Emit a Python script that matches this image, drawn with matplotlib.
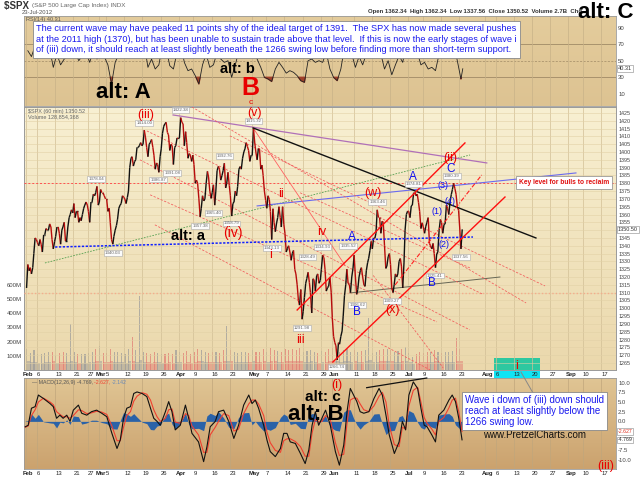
import numpy as np
import matplotlib
matplotlib.use("Agg")
import matplotlib.pyplot as plt
from matplotlib.collections import LineCollection
from matplotlib.colors import LinearSegmentedColormap
from matplotlib.lines import Line2D
from matplotlib.patches import Rectangle
from matplotlib.transforms import ScaledTranslation

plt.rcParams['font.family'] = ['Liberation Sans', 'DejaVu Sans']

W, H = 640, 479

# $SPX 60 min, Feb 1 - Jul 23 2012: three readings per trading day
feb = [[1313, 1328, 1324], [1326, 1322, 1326], [1335, 1345, 1344], [1342, 1340, 1344], [1341, 1336, 1347],
       [1347, 1351, 1350], [1350, 1354, 1352], [1344, 1338, 1342.6], [1346, 1352, 1352], [1348, 1341, 1350],
       [1352, 1355, 1343], [1343, 1352, 1358], [1360, 1363, 1361], [1367, 1358, 1362], [1362, 1355, 1358],
       [1356, 1360, 1364], [1366, 1368, 1366], [1362, 1355, 1368], [1368, 1373, 1372], [1374, 1378, 1366]]
mar = [[1368, 1376, 1374], [1374, 1372, 1370], [1370, 1362, 1364], [1355, 1344, 1341], [1346, 1350, 1353],
       [1357, 1364, 1366], [1367, 1372, 1371], [1370, 1367, 1371], [1375, 1390, 1396], [1397, 1391, 1394],
       [1395, 1403, 1403], [1404, 1406, 1404], [1405, 1414, 1409], [1403, 1397, 1405], [1406, 1408, 1403],
       [1398, 1389, 1393], [1392, 1387, 1397], [1402, 1412, 1416.5], [1418, 1419, 1412.5], [1411, 1401, 1405],
       [1404, 1392, 1403], [1404, 1409, 1408.5]]
apr = [[1409, 1422, 1419], [1418, 1404, 1413], [1406, 1396, 1399], [1398, 1394, 1398], [1392, 1380, 1382],
       [1380, 1370, 1358.6], [1364, 1372, 1368.7], [1370, 1380, 1387.6], [1384, 1375, 1370.3], [1374, 1379, 1366],
       [1375, 1388, 1390.8], [1389, 1382, 1385], [1388, 1392.8, 1377], [1380, 1387, 1378.5], [1372, 1359, 1367],
       [1368, 1375, 1372], [1378, 1389, 1390.7], [1389, 1396, 1400], [1402, 1406, 1403.4], [1401, 1394, 1398]]
may = [[1398, 1415, 1405.8], [1400, 1395, 1402.3], [1402, 1389, 1391.6], [1385, 1375, 1369], [1364, 1372, 1369.6],
       [1362, 1344, 1363.7], [1355, 1349, 1354.6], [1358, 1365, 1358], [1352, 1365, 1353.4], [1348, 1336, 1338.4],
       [1340, 1336, 1330.7], [1335, 1337, 1324.8], [1322, 1315, 1304.9], [1302, 1312, 1293], [1298, 1307, 1316],
       [1319, 1323, 1316.6], [1310, 1297, 1318.9], [1318, 1311, 1320.7], [1322, 1316, 1317.8], [1325, 1334, 1332.4],
       [1325, 1311, 1313.3], [1314, 1320, 1310.3]]
jun = [[1294, 1282, 1278], [1276, 1267, 1278], [1277, 1282, 1285.5], [1295, 1308, 1315], [1325, 1316, 1315],
       [1310, 1320, 1325.7], [1334, 1320, 1308.9], [1312, 1320, 1324.2], [1326, 1320, 1314.9], [1314, 1324, 1329.1],
       [1332, 1337, 1342.8], [1338, 1345, 1344.8], [1348, 1363, 1358], [1358, 1348, 1355.7], [1355, 1340, 1325.5],
       [1327, 1333, 1335], [1328, 1313, 1310], [1315, 1322, 1320], [1322, 1330, 1331.85], [1327, 1313, 1329],
       [1350, 1360, 1362.2]]
jul = [[1362, 1358, 1365.5], [1366, 1374, 1374], [1372, 1373, 1367.6], [1362, 1351, 1354.7], [1352, 1348, 1352.5],
       [1355, 1358, 1341.5], [1340, 1338, 1341.5], [1335, 1326, 1334.8], [1336, 1350, 1356.8], [1355, 1348, 1353.6],
       [1354, 1366, 1363.7], [1360, 1368, 1372.8], [1376, 1380, 1376.5], [1373, 1365, 1362.7], [1352, 1338, 1350.5]]

# volume (millions): typical hour and biggest hour of each day
vol_base = [60, 55, 58, 50, 52, 55, 56, 60, 50, 55, 58, 55, 62, 56, 50, 52, 50, 54, 58, 62,
            60, 55, 56, 65, 58, 56, 55, 52, 62, 60, 58, 70, 56, 54, 52, 56, 55, 52, 50, 54, 50, 58,
            56, 52, 55, 50, 58, 65, 60, 56, 54, 55, 58, 54, 60, 62, 60, 56, 54, 56, 58, 54,
            60, 56, 58, 62, 58, 65, 60, 58, 56, 62, 60, 62, 60, 66, 58, 58, 60, 56, 52, 58, 56, 62,
            68, 64, 56, 60, 62, 56, 60, 56, 58, 60, 70, 54, 56, 60, 62, 64, 60, 56, 58, 62, 66,
            54, 45, 50, 56, 54, 56, 55, 60, 56, 54, 55, 56, 58, 62, 62]
vol_peak = [150, 120, 140, 110, 115, 120, 125, 130, 105, 120, 125, 120, 324, 125, 110, 115, 110, 120, 130, 150,
            170, 120, 120, 150, 130, 125, 120, 115, 150, 232, 140, 520, 130, 120, 115, 125, 120, 115, 110, 120, 110, 140,
            130, 120, 135, 115, 130, 150, 140, 125, 120, 125, 130, 120, 140, 310, 140, 125, 120, 125, 130, 120,
            140, 125, 130, 150, 130, 155, 140, 135, 130, 150, 140, 145, 140, 155, 130, 135, 140, 130, 120, 135, 130, 150,
            160, 150, 130, 140, 150, 130, 140, 130, 135, 140, 366, 120, 130, 140, 145, 150, 140, 130, 135, 150, 160,
            120, 90, 110, 125, 120, 130, 125, 140, 130, 120, 125, 130, 135, 225, 150]

# RSI(14), one reading per day, then last print
rsi_vals = [62, 55, 68, 60, 55, 62, 64, 42, 58, 45, 52, 55, 62, 60, 50, 56, 60, 48, 62, 52,
            58, 55, 45, 22, 48, 58, 60, 55, 70, 62, 68, 66, 70, 42, 52, 40, 45, 68, 65, 44, 40, 60,
            70, 48, 38, 40, 32, 22, 45, 58, 42, 45, 60, 52, 48, 50, 30, 45, 62, 66, 64, 55,
            68, 52, 42, 30, 28, 25, 40, 48, 42, 35, 38, 36, 32, 26, 24, 50, 52, 48, 50, 48, 60, 40,
            30, 26, 40, 66, 60, 58, 42, 55, 45, 58, 64, 66, 70, 58, 40, 50, 33, 45, 56, 48, 70,
            68, 72, 60, 45, 48, 40, 42, 38, 58, 56, 64, 68, 70, 50, 28]
rsi_last = 40.31

# MACD(12,26,9)
macd_days = [-0.2, 0.6, 1.5, 2.5, 3.4, 4.8, 6.6, 7.5, 8.4, 9.3, 10.2, 11.2, 12.1, 13, 14.4, 15.3, 16.7, 18,
             19.4, 20.8, 22.2, 23.6, 25, 25.9, 26.8, 27.7, 28.7, 29.6, 30.5, 31.9, 33.2, 34.2, 35.1, 36,
             36.9, 38.3, 39.2, 40.1, 41, 42.4, 43.8, 44.7, 45.6, 47.4, 48.8, 49.7, 50.6, 52, 52.9, 54.3,
             55.7, 57.1, 58.4, 59.8, 61.2, 62.1, 63, 63.9, 65.3, 66.2, 67.1, 68.5, 69.9, 70.8, 71.7, 72.6,
             74, 75.4, 76.7, 77.7, 78.6, 79.5, 80.4, 81.3, 82.3, 83.6, 85, 86.1, 87.3, 88.2, 89.1, 90,
             90.9, 91.8, 92.8, 94.2, 95.6, 97, 97.9, 98.9, 99.8, 101.2, 102.5, 103.4, 104.3, 105.2, 106.4,
             107.6, 108.5, 109.4, 110.2, 111.5, 112.5, 113.4, 114.8, 116.2, 117.1, 118, 118.9, 119.8]
macd_vals = [-1.4, -1.0, 3.4, 3.8, 6.8, 5.9, 4.6, 3.8, 0.8, 1.6, 0.8, 1.6, 0.0, 2.9, 4.2, 2.1, 1.6, 2.5,
             2.9, 2.1, 1.2, -3.1, -7.0, -4.8, 0.8, 3.4, 3.8, 7.2, 7.6, 7.2, 6.4, 3.4, 0.8, 0.0, -1.0, 2.5,
             5.1, 2.5, -2.2, -1.0, 4.2, 0.8, -3.1, -5.3, -10.4, -6.6, -1.4, 0.0, 2.5, 2.9, 0.0, -4.4, -1.0,
             4.2, 6.8, 4.6, 5.5, 3.4, -1.0, -4.8, -7.8, -9.1, -7.0, -3.1, -3.1, -5.3, -5.7, -8.3, -10.9,
             -7.4, -1.0, 2.5, -1.0, 0.8, 2.9, -1.0, -7.8, -11.3, -6.1, 2.5, 8.5, 6.8, 5.1, 2.5, 2.1, 2.5,
             5.9, 8.5, 6.8, 1.6, -3.5, -8.3, -5.3, 0.0, -2.2, 6.8, 10.2, 8.5, 3.4, -1.0, -1.4, -3.5, -5.3,
             1.6, 2.9, 5.5, 6.8, 5.1, 0.8, -4.769]
signal_vals = [-1.5, -1.2, 1.5, 3.0, 5.0, 6.0, 5.0, 4.3, 2.5, 1.8, 1.2, 1.2, 0.8, 1.5, 3.0, 2.8, 2.0, 2.2,
               2.6, 2.4, 1.8, -1.2, -5.0, -5.0, -1.5, 1.5, 2.5, 5.2, 6.5, 7.4, 7.0, 5.5, 3.0, 1.2, 0.0, 0.8,
               3.0, 3.2, -0.2, -0.5, 2.0, 1.5, -1.2, -3.5, -8.0, -8.0, -3.5, -1.5, 0.0, 2.0, 1.5, -2.5, -2.0,
               2.0, 4.5, 5.5, 5.5, 4.5, 1.5, -2.8, -5.5, -7.5, -8.0, -5.0, -4.5, -4.5, -5.2, -6.5, -9.0,
               -9.0, -3.0, 0.5, -0.2, 0.0, 1.5, 0.5, -5.5, -8.8, -8.5, -0.5, 5.5, 6.0, 6.0, 4.5, 3.0, 2.5,
               4.0, 6.5, 7.5, 5.0, -1.0, -6.0, -6.5, -1.5, -2.0, 4.0, 8.0, 8.8, 5.0, 1.0, -0.5, -2.0, -3.5,
               0.0, 1.0, 3.5, 5.5, 6.0, 2.5, -2.627]

# swing labels on the price pane: (trading day, price, above the bar?)
swing_labels = [(19.3, 1378.04, True), (23.9, 1340.03, False), (32.5, 1414.00, True), (36.3, 1386.87, False),
                (40.2, 1391.08, False), (42.5, 1422.38, True), (47.8, 1357.38, False), (51.5, 1365.40, False),
                (54.5, 1392.76, True), (56.5, 1358.79, False), (62.5, 1415.32, True), (67.5, 1343.13, False),
                (75.8, 1291.98, False), (77.3, 1328.49, True), (81.5, 1334.93, True), (85.3, 1266.74, False),
                (88.5, 1335.52, True), (91.0, 1306.62, False), (96.5, 1363.46, True), (100.5, 1309.27, False),
                (106.5, 1374.81, True), (112.3, 1325.41, False), (117.0, 1380.39, True), (119.5, 1337.56, False)]

# trend lines drawn on the chart: (day0, price0, day1, price1)
alt_a_line = (8.0, 1339.2, 122.8, 1345.6)
green_line = (5.2, 1329.0, 122.0, 1398.1)
purple_line = (40.4, 1423.7, 126.6, 1393.0)
black_line = (62.4, 1415.4, 140.1, 1345.0)
blue_line = (63.5, 1365.5, 151.1, 1386.6)
gray_line = (89.0, 1309.8, 130.2, 1320.0)
red_up_lines = [(74.5, 1298.9, 120.6, 1405.8), (84.3, 1265.6, 131.6, 1371.2)]
red_mid_line = (101.4, 1314.9, 125.2, 1385.3)
red_steep_line = (62.4, 1415.4, 87.6, 1327.7)
red_fan = [(45.6, 1428.8, 137.4, 1303.4), (33.2, 1413.5, 125.3, 1309.2), (31.3, 1395.0, 121.9, 1286.2),
           (34.1, 1372.6, 112.9, 1291.3), (35.4, 1353.4, 111.0, 1260.6), (75.3, 1373.9, 122.0, 1325.8),
           (56.0, 1410.3, 142.6, 1314.3), (95.4, 1321.0, 114.6, 1261.9)]
key_level = 1380
volume_level = 1310
macd_div_line = (93.6, 8.7, 110.1, 11.2)
target_zone = (128.6, 141.2)

date_pos = [0, 3, 8, 13, 17, 20, 22, 27, 32, 37, 42, 46, 51, 56, 62, 66, 71, 76, 81, 84, 90, 95, 100,
            105, 109, 114, 119, 126, 129, 134, 139, 144, 149, 153, 158]
date_lbl = ['Feb', '6', '13', '21', '27', 'Mar', '5', '12', '19', '26', 'Apr', '9', '16', '23', 'May', '7',
            '14', '21', '29', 'Jun', '11', '18', '25', 'Jul', '9', '16', '23', 'Aug', '6', '13', '20', '27',
            'Sep', '10', '17']
months = {'Feb', 'Mar', 'Apr', 'May', 'Jun', 'Jul', 'Aug', 'Sep'}


def pos(x0, y0, x1, y1):
    return [x0 / W, 1 - y1 / H, (x1 - x0) / W, (y1 - y0) / H]


def fxy(x, y):
    return x / W, 1 - y / H


def shade(ax, top, bot):
    g = np.linspace(0, 1, 256).reshape(-1, 1)
    cm = LinearSegmentedColormap.from_list('bg', [top, bot])
    ax.imshow(g, aspect='auto', cmap=cm, extent=(0, 1, 0, 1), transform=ax.transAxes, zorder=0)


def style(ax):
    for s in ax.spines.values():
        s.set_color('#9a9a9a')
        s.set_linewidth(0.6)
    ax.tick_params(length=0, labelsize=4.3, colors='#444444', pad=1.5)


fig = plt.figure(figsize=(6.4, 4.79), dpi=100)
fig.patch.set_facecolor('white')
month_shift = ScaledTranslation(-3 / 100, 0, fig.dpi_scale_trans)


def date_axis(ax):
    ax.set_xticks(date_pos)
    ax.set_xticklabels(date_lbl)
    ax.tick_params(axis='x', labelsize=4.2, colors='#222222', pad=1.2)
    for lb in ax.get_xticklabels():
        lb.set_ha('left')
        if lb.get_text() in months:
            lb.set_fontweight('bold')
            lb.set_transform(lb.get_transform() + month_shift)


xlim = (-0.55, 162.1)

# ---------------- RSI pane ----------------
ax_r = fig.add_axes(pos(24, 16, 616, 106))
shade(ax_r, '#e4cc9c', '#ddc392')
rsi_t = np.append(np.arange(len(rsi_vals)) + 0.5, len(rsi_vals))
rsi_y = np.append(rsi_vals, rsi_last)
ax_r.plot(rsi_t, rsi_y, color='#222222', lw=0.6, zorder=3)
ax_r.fill_between(rsi_t, rsi_y, 30, where=rsi_y < 30, interpolate=True, color='#a0402a', zorder=2)
ax_r.axhline(30, color='#a08a66', lw=0.6, zorder=1)
ax_r.axhline(70, color='#a08a66', lw=0.6, zorder=1)
ax_r.axhline(50, color='#a08a66', lw=0.5, ls=(0, (3, 2)), zorder=1)
ax_r.set_xlim(*xlim)
ax_r.set_ylim(-4.6, 103.9)
ax_r.set_xticks(date_pos)
ax_r.grid(axis='x', color='#c8b288', lw=0.5)
ax_r.tick_params(labelbottom=False)
ax_r.yaxis.tick_right()
ax_r.set_yticks([10, 30, 50, 70, 90])
style(ax_r)
ax_r.text(0.004, 0.985, 'RSI(14) 40.31', transform=ax_r.transAxes, fontsize=4, color='#555555', va='top')
ax_r.text(1.003, rsi_last, '40.31', transform=ax_r.get_yaxis_transform(), fontsize=4, va='center',
          color='#333333', bbox=dict(boxstyle='square,pad=0.15', fc='white', ec='#888888', lw=0.4))

# ---------------- volume (under price) ----------------
ax_v = fig.add_axes(pos(24, 107, 616, 370))
shade(ax_v, '#f8f0d2', '#ebd8ac')
days = np.arange(len(vol_peak))
price = np.array(feb + mar + apr + may + jun + jul, dtype=float)
closes = price[:, 2]
up = np.r_[True, closes[1:] >= closes[:-1]]
vcol = np.where(up, '#9a9a9a', '#e07a72')
ax_v.bar(days + 0.5, vol_base, width=0.95, color=vcol, alpha=0.5, zorder=1, linewidth=0)
ax_v.bar(days + 0.2, vol_peak, width=0.3, color=vcol, alpha=0.7, zorder=1, linewidth=0)
ax_v.set_xlim(*xlim)
ax_v.set_ylim(0, 1850)
ax_v.set_yticks([100, 200, 300, 400, 500, 600])
ax_v.set_yticklabels(['100M', '200M', '300M', '400M', '500M', '600M'])
ax_v.grid(axis='x', color='#d2bf96', lw=0.5, zorder=0.5)
style(ax_v)
date_axis(ax_v)

# ---------------- price pane ----------------
ax_p = fig.add_axes(pos(24, 107, 616, 370))
ax_p.patch.set_visible(False)
t = (days[:, None] + np.array([0.15, 0.5, 0.85])).ravel()
y = price.ravel()
pts = np.column_stack([t, y])
segs = np.stack([pts[:-1], pts[1:]], axis=1)
scol = np.where(y[1:] >= y[:-1], '#111111', '#b80c0c')
ax_p.add_collection(LineCollection(segs, colors=scol, linewidths=1.0, zorder=4))

for v in np.arange(1265, 1430, 5):
    ax_p.axhline(v, color='#e2d1a6', lw=0.4, zorder=0.5)

ax_p.axhline(key_level, color='#ff5050', lw=0.7, ls=(0, (2, 2)), zorder=3)
ax_p.axhline(volume_level, color='#f4ad8c', lw=1.0, ls=(0, (1, 1.5)), zorder=3)


def seg(line, **kw):
    ax_p.plot([line[0], line[2]], [line[1], line[3]], **kw)


seg(alt_a_line, color='#1020ff', lw=1.1, ls=(0, (1.5, 1)), zorder=5)
seg(green_line, color='#55a050', lw=0.6, ls=(0, (2, 1.5)), zorder=3)
seg(purple_line, color='#b070b8', lw=0.9, zorder=3)
seg(black_line, color='#111111', lw=1.0, zorder=5)
seg(blue_line, color='#6a6af0', lw=0.8, zorder=3)
seg(gray_line, color='#666655', lw=0.7, zorder=3)
for ln in red_up_lines:
    seg(ln, color='#ff1010', lw=1.0, zorder=5)
seg(red_mid_line, color='#ff2020', lw=0.8, ls=(0, (4, 1.5, 1, 1.5)), zorder=5)
seg(red_steep_line, color='#ff6060', lw=0.6, zorder=3)
for ln in red_fan:
    seg(ln, color='#f25a5a', lw=0.55, ls=(0, (3, 2)), zorder=3)

for d, p, above in swing_labels:
    off = 4.5 if above else -4.5
    ax_p.text(d, p + off, f'{p:.2f}', fontsize=3.2, ha='center', va='center', color='#666666', zorder=6,
              bbox=dict(boxstyle='square,pad=0.2', fc='#fbfbfb', ec='#aaaaaa', lw=0.4))

ax_p.set_xlim(*xlim)
ax_p.set_ylim(1260.5, 1428.8)
ax_p.yaxis.tick_right()
pticks = np.arange(1265, 1430, 5)
ax_p.set_yticks(pticks)
# the last-price box sits over the 1350 label
ax_p.set_yticklabels(['' if v == 1350 else str(v) for v in pticks])
ax_p.set_xticks([])
style(ax_p)
ax_p.tick_params(labelsize=3.9)
ax_p.text(1.003, closes[-1], f'{closes[-1]:.2f}', transform=ax_p.get_yaxis_transform(), fontsize=4,
          va='center', color='#333333', zorder=8,
          bbox=dict(boxstyle='square,pad=0.15', fc='white', ec='#888888', lw=0.4))
ax_p.text(0.006, 0.992, '$SPX (60 min) 1350.52\nVolume 128,854,368', transform=ax_p.transAxes,
          fontsize=4, color='#666666', va='top', linespacing=1.1)

# target zone box in the future
ax_v.add_patch(Rectangle((target_zone[0], 1268.2), target_zone[1] - target_zone[0], 1260.5 - 1268.2,
                         transform=ax_p.transData, fc='#2ec8a0', ec='none', zorder=1, clip_on=False))
ax_v.add_patch(Rectangle((target_zone[0], 1260.5), target_zone[1] - target_zone[0], 1254.8 - 1260.5,
                         transform=ax_p.transData, fc='#10e4f4', ec='none', zorder=1, clip_on=False))

# ---------------- MACD pane ----------------
ax_m = fig.add_axes(pos(24, 378, 616, 469))
shade(ax_m, '#e0c594', '#cba26e')
md = np.array(macd_days)
mv = np.array(macd_vals)
sv = np.array(signal_vals)
ax_m.fill_between(md, mv - sv, 0, color='#2a62a8', lw=0, zorder=2)
ax_m.plot(md, sv, color='#f04030', lw=0.8, zorder=3)
ax_m.plot(md, mv, color='#111111', lw=0.8, zorder=4)
ax_m.plot([macd_div_line[0], macd_div_line[2]], [macd_div_line[1], macd_div_line[3]], color='#111111',
          lw=0.9, zorder=5, clip_on=False)
ax_m.set_xlim(*xlim)
ax_m.set_ylim(-12.3, 11.2)
ax_m.yaxis.tick_right()
mticks = np.arange(-10, 10.1, 2.5)
ax_m.set_yticks(mticks)
# the two last-value boxes cover the -2.5 and -5.0 labels
ax_m.set_yticklabels(['' if v in (-2.5, -5.0) else f'{v:.1f}' for v in mticks])
ax_m.grid(axis='x', color='#c0a67c', lw=0.5)
style(ax_m)
date_axis(ax_m)
for val, col in [(signal_vals[-1], '#e03020'), (macd_vals[-1], '#333333')]:
    ax_m.text(1.003, val, f'{val:.3f}', transform=ax_m.get_yaxis_transform(), fontsize=3.8, va='center',
              color=col, zorder=8, bbox=dict(boxstyle='square,pad=0.15', fc='white', ec='#888888', lw=0.4))
m1 = ax_m.text(0.013, 0.955, '\u2014 MACD(12,26,9) -4.769, ', transform=ax_m.transAxes, fontsize=3.8,
               color='#555555', va='center')
m2 = ax_m.annotate('-2.627, ', xy=(1, 0.5), xycoords=m1, fontsize=3.8, color='#f04030', va='center')
ax_m.annotate('-2.142', xy=(1, 0.5), xycoords=m2, fontsize=3.8, color='#6a8ab8', va='center')

# ---------------- header ----------------
h1 = fig.text(*fxy(4, 6), '$SPX ', fontsize=7, fontweight='bold', color='#333333', va='center')
fig.add_artist(matplotlib.text.Annotation('(S&P 500 Large Cap Index) INDX', xy=(1, 0.5), xycoords=h1,
                                          fontsize=4.5, color='#666666', va='center'))
fig.text(*fxy(22, 13), '23-Jul-2012', fontsize=4.2, color='#555555', va='center')
fig.text(*fxy(368, 12), 'Open 1362.34  High 1362.34  Low 1337.56  Close 1350.52  Volume 2.7B  Chg',
         fontsize=4.3, color='#333333', va='center', fontweight='bold')

# ---------------- wave labels ----------------
RED, BLUE, BLK = '#e80000', '#1010f0', '#000000'
labels = [
    ('alt: A', 123, 93, BLK, 16, 'bold'), ('alt: b', 237, 69, BLK, 10.5, 'bold'),
    ('B', 250, 88, RED, 18, 'bold'), ('c', 251, 103, RED, 6, 'normal'), ('(v)', 254, 113, RED, 9, 'normal'),
    ('(iii)', 146, 115, RED, 9, 'normal'), ('(iv)', 233, 233, RED, 10, 'normal'),
    ('alt: a', 188, 236, BLK, 10.5, 'bold'), ('ii', 281, 194, RED, 9, 'normal'), ('i', 271, 255, RED, 9, 'normal'),
    ('iii', 300, 340, RED, 9, 'normal'), ('iv', 322, 232, RED, 9, 'normal'), ('(i)', 337, 385, RED, 9, 'normal'),
    ('A', 413, 177, BLUE, 8.5, 'normal'), ('A', 352, 237, BLUE, 8.5, 'normal'), ('(w)', 373, 193, RED, 9, 'normal'),
    ('(ii)', 450, 158, RED, 9, 'normal'), ('C', 451, 169, BLUE, 8.5, 'normal'), ('(3)', 443, 186, BLUE, 6.5, 'normal'),
    ('(4)', 450, 202, BLUE, 6.5, 'normal'), ('(1)', 437, 211, BLUE, 6.5, 'normal'), ('(2)', 444, 244, BLUE, 6.5, 'normal'),
    ('B', 432, 283, BLUE, 8.5, 'normal'), ('B', 357, 312, BLUE, 8.5, 'normal'), ('(x)', 392, 310, RED, 9, 'normal'),
    ('alt: c', 323, 397, BLK, 11, 'bold'), ('alt: B', 316, 414, BLK, 16, 'bold'),
    ('(iii)', 606, 466, RED, 9, 'normal'), ('alt: C', 606, 12, BLK, 16, 'bold'), ('i', 517, 366, RED, 9, 'normal'),
]
for s, x, yy, c, fs, fw in labels:
    fig.text(*fxy(x, yy), s, color=c, fontsize=fs, fontweight=fw, ha='center', va='center', zorder=10)

# ---------------- notes ----------------
note = ("The current wave may have peaked 11 points shy of the ideal target of 1391.  The SPX has now made several pushes\n"
        "at the 2011 high (1370), but has been unable to sustain trade above that level.  If this is now the early stages of wave i\n"
        "of (iii) down, it should reach at least slightly beneath the 1266 swing low before finding more than short-term support.")
fig.text(*fxy(36, 24), note, fontsize=6.6, color='#1a1aee', va='top', ha='left', linespacing=1.25, zorder=10,
         bbox=dict(boxstyle='square,pad=0.35', fc='white', ec='#888888', lw=0.6))

fig.text(*fxy(465, 395), 'Wave i down of (iii) down should\nreach at least slightly below the\n1266 swing low.',
         fontsize=7, color='#1a1aee', va='top', ha='left', linespacing=1.15, zorder=10,
         bbox=dict(boxstyle='square,pad=0.3', fc='white', ec='#888888', lw=0.6))
fig.add_artist(Line2D([533 / W, 521 / W], [1 - 393 / H, 1 - 372 / H], color='#888888', lw=0.7))

fig.text(*fxy(519, 182), 'Key level for bulls to reclaim', fontsize=4.8, color='#e01010', va='center',
         fontweight='bold', zorder=10, bbox=dict(boxstyle='square,pad=0.45', fc='white', ec='#888888', lw=0.5))

fig.text(*fxy(535, 435), 'www.PretzelCharts.com', fontsize=7, color='#111111', ha='center', va='center')

fig.savefig('out.png', dpi=100, facecolor='white')
